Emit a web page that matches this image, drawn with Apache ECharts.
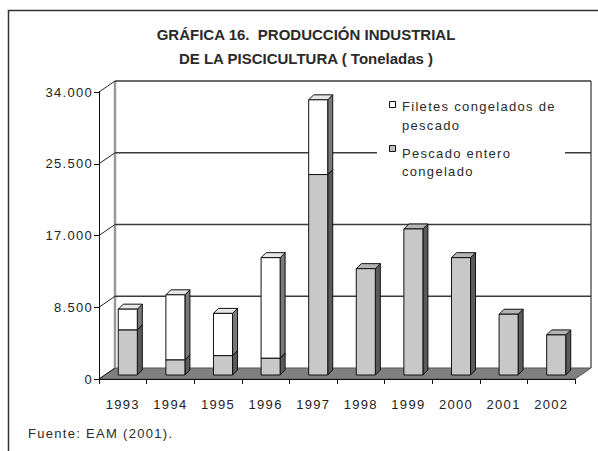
<!DOCTYPE html>
<html><head><meta charset="utf-8">
<script src="https://cdn.jsdelivr.net/npm/echarts@6/dist/echarts.min.js"></script>
<style>
html,body{margin:0;padding:0;background:#fff;}
#c{width:598px;height:451px;}
#c svg text:not([style*="bold"]){letter-spacing:1.3px;}
</style></head><body><div id="c"></div>
<script>
const years = ['1993','1994','1995','1996','1997','1998','1999','2000','2001','2002'];
const pescadoEntero = [5350, 1800, 2300, 2000, 23750, 12600, 17300, 13900, 7200, 4750];
const filetes = [2450, 7700, 5000, 11900, 8850, 0, 0, 0, 0, 0];
const yTicks = [0, 8500, 17000, 25500, 34000];
const nameFiletes = 'Filetes congelados de\npescado';
const nameEntero = 'Pescado entero\ncongelado';
const titleText = 'GRÁFICA 16.  PRODUCCIÓN INDUSTRIAL\nDE LA PISCICULTURA ( Toneladas )';
const sourceText = 'Fuente: EAM (2001).';

const FONT = '"Liberation Sans", Arial, sans-serif';
const WALL_DX = 16, WALL_DY = -11;
const BAR_OX = 5, BAR_OY = -4, DEPTH_DX = 5, DEPTH_DY = -5;

const enteroData = years.map((y, i) => [i, 0, pescadoEntero[i]]);
const filetesData = years.map((y, i) => [i, pescadoEntero[i], pescadoEntero[i] + filetes[i]]).filter(d => d[2] > d[1]);

function makeBarRender(front, side, top) {
  return function (params, api) {
    const i = api.value(0), lo = api.value(1), hi = api.value(2);
    const pLo = api.coord([i, lo]), pHi = api.coord([i, hi]);
    const w = api.size([1, 0])[0] * 0.4;
    const xl = pLo[0] - w / 2 + BAR_OX, xr = xl + w;
    const yb = pLo[1] + BAR_OY, yt = pHi[1] + BAR_OY;
    const st = { stroke: '#111', lineWidth: 1 };
    return {
      type: 'group',
      children: [
        { type: 'polygon', shape: { points: [[xr, yb], [xr + DEPTH_DX, yb + DEPTH_DY], [xr + DEPTH_DX, yt + DEPTH_DY], [xr, yt]] }, style: Object.assign({ fill: side }, st) },
        { type: 'polygon', shape: { points: [[xl, yt], [xr, yt], [xr + DEPTH_DX, yt + DEPTH_DY], [xl + DEPTH_DX, yt + DEPTH_DY]] }, style: Object.assign({ fill: top }, st) },
        { type: 'rect', shape: { x: xl, y: yt, width: w, height: yb - yt }, style: Object.assign({ fill: front }, st) }
      ]
    };
  };
}

function wallRender(params, api) {
  const cs = params.coordSys;
  const x0 = cs.x, x1 = cs.x + cs.width;
  const y0 = api.coord([0, 0])[1];
  const yTop = api.coord([0, yTicks[yTicks.length - 1]])[1];
  const children = [];
  children.push({ type: 'polygon', shape: { points: [[x0, y0], [x1, y0], [x1 + WALL_DX, y0 + WALL_DY], [x0 + WALL_DX, y0 + WALL_DY]] }, style: { fill: '#808080', stroke: '#555', lineWidth: 1 } });
  children.push({ type: 'line', shape: { x1: x0 + WALL_DX, y1: yTop + WALL_DY, x2: x0 + WALL_DX, y2: y0 + WALL_DY }, style: { stroke: '#9a9a9a', lineWidth: 2.5 } });
  children.push({ type: 'line', shape: { x1: x1 + WALL_DX, y1: yTop + WALL_DY, x2: x1 + WALL_DX, y2: y0 + WALL_DY }, style: { stroke: '#444', lineWidth: 1.3 } });
  yTicks.forEach(v => {
    const y = api.coord([0, v])[1];
    if (v > 0) {
      children.push({ type: 'line', shape: { x1: x0 + WALL_DX, y1: y + WALL_DY, x2: x1 + WALL_DX, y2: y + WALL_DY }, style: { stroke: '#3a3a3a', lineWidth: 1.3 } });
    }
    children.push({ type: 'line', shape: { x1: x0, y1: y, x2: x0 + WALL_DX, y2: y + WALL_DY }, style: { stroke: '#222', lineWidth: 1 } });
  });
  return { type: 'group', children };
}

const chart = echarts.init(document.getElementById('c'), null, { renderer: 'svg', width: 598, height: 451 });
chart.setOption({
  animation: false,
  backgroundColor: '#fff',
  title: {
    text: titleText,
    left: 306, top: 22, textAlign: 'center', padding: 0,
    textStyle: { fontFamily: FONT, fontWeight: 'bold', fontSize: 15, lineHeight: 24, color: '#2a2a2a' }
  },
  grid: { left: 99, top: 92, width: 476, height: 287 },
  xAxis: {
    type: 'category', data: years, z: 5,
    axisLine: { lineStyle: { color: '#111', width: 1 } },
    axisTick: { show: true, length: 5, lineStyle: { color: '#111' } },
    axisLabel: { margin: 19, fontFamily: FONT, fontSize: 13, color: '#222' },
    splitLine: { show: false }
  },
  yAxis: {
    type: 'value', min: 0, max: 34000, interval: 8500, z: 5,
    axisLine: { show: true, lineStyle: { color: '#111', width: 1 } },
    axisTick: { show: true, length: 5, lineStyle: { color: '#111' } },
    axisLabel: { margin: 6, fontFamily: FONT, fontSize: 13, color: '#222',
      formatter: v => v === 0 ? '0' : v.toLocaleString('de-DE') },
    splitLine: { show: false }
  },
  series: [
    { type: 'custom', name: 'wall', z: 1, silent: true, data: [[0, 0]], renderItem: wallRender, encode: { x: 0, y: 1 } },
    { type: 'custom', name: nameEntero, z: 2, data: enteroData, encode: { x: 0, y: [1, 2] },
      itemStyle: { color: '#c8c8c8' }, renderItem: makeBarRender('#c8c8c8', '#5a5a5a', '#b4b4b4') },
    { type: 'custom', name: nameFiletes, z: 3, data: filetesData, encode: { x: 0, y: [1, 2] },
      itemStyle: { color: '#ffffff' }, renderItem: makeBarRender('#ffffff', '#7a7a7a', '#e6e6e6') }
  ],
  graphic: [
    { type: 'rect', z: 50, silent: true, shape: { x: 8.5, y: 10.5, width: 700, height: 700 }, style: { fill: 'none', stroke: '#333', lineWidth: 1.5 } },
    { type: 'rect', z: 40, shape: { x: 377, y: 92, width: 188, height: 93 }, style: { fill: '#fff' } },
    { type: 'rect', z: 41, shape: { x: 389.5, y: 101.5, width: 6, height: 6 }, style: { fill: '#fff', stroke: '#111', lineWidth: 1 } },
    { type: 'text', z: 41, style: { text: nameFiletes, x: 402, y: 97, verticalAlign: 'top', font: '13px ' + FONT, lineHeight: 19, fill: '#2a2a2a' } },
    { type: 'rect', z: 41, shape: { x: 389.5, y: 145.5, width: 6, height: 6 }, style: { fill: '#c0c0c0', stroke: '#111', lineWidth: 1 } },
    { type: 'text', z: 41, style: { text: nameEntero, x: 402, y: 144, verticalAlign: 'top', font: '13px ' + FONT, lineHeight: 18, fill: '#2a2a2a' } },
    { type: 'text', z: 41, style: { text: sourceText, x: 28, y: 427, verticalAlign: 'top', font: '13px ' + FONT, fill: '#2a2a2a' } }
  ]
});
</script></body></html>
